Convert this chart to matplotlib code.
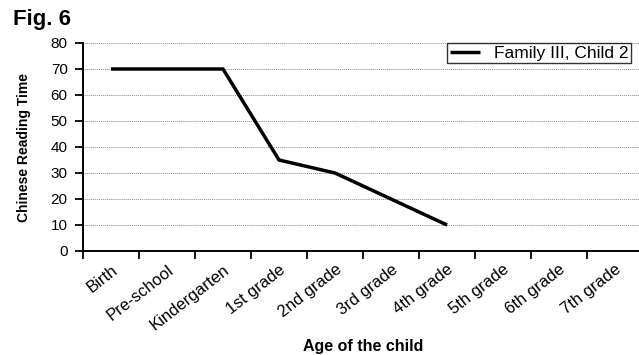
import matplotlib
matplotlib.use("Agg")
import matplotlib.pyplot as plt

categories = ["Birth", "Pre-school", "Kindergarten", "1st grade", "2nd grade",
              "3rd grade", "4th grade", "5th grade", "6th grade", "7th grade"]
values = [70, 70, 70, 35, 30, 20, 10]
series_name = "Family III, Child 2"
yticks = [0, 10, 20, 30, 40, 50, 60, 70, 80]

plt.rcParams['font.family'] = ['Liberation Sans', 'DejaVu Sans']

W, H = 639, 355
fig = plt.figure(figsize=(W/100, H/100), dpi=100)
ax = fig.add_axes([83/W, (H-251)/H, 560/W, (251-43)/H])

xs = [i + 0.5 for i in range(len(values))]
ax.plot(xs, values, color='black', lw=2.5, solid_capstyle='butt', label=series_name)

ax.set_xlim(0, len(categories))
ax.set_ylim(0, 80)
ax.set_yticks(yticks)
ax.set_xticks(range(len(categories) + 1))
ax.set_xticklabels([])
ax.set_xticks([i + 0.5 for i in range(len(categories))], minor=True)
ax.set_xticklabels(categories, minor=True, rotation=38, ha='right', va='top',
                   rotation_mode='anchor', fontsize=12)
ax.tick_params(axis='x', which='minor', length=0, pad=8)
ax.tick_params(axis='x', which='major', length=6, width=1.3, direction='out')
ax.tick_params(axis='y', length=6, width=1.3, direction='out', labelsize=11, pad=5)

for y in yticks[1:]:
    ax.axhline(y, color='#888888', lw=0.7, ls=(0, (1, 1)), zorder=0)

for s in ['top', 'right']:
    ax.spines[s].set_visible(False)
ax.spines['left'].set_linewidth(1.4)
ax.spines['bottom'].set_linewidth(1.4)

ax.set_ylabel("Chinese Reading Time", fontsize=10, fontweight='bold', va='center')
ax.yaxis.set_label_coords(-(83-24)/560, (251-147)/(251-43))
ax.set_xlabel("Age of the child", fontsize=11.5, fontweight='bold', va='center')
ax.xaxis.set_label_coords(280/560, -(347-251)/(251-43))

leg = fig.legend(loc='upper left', bbox_to_anchor=(447/W, 1 - 43/H), frameon=True, fancybox=False,
                 edgecolor='black', fontsize=12.5, handlelength=1.75, borderpad=0.15,
                 borderaxespad=0, handletextpad=0.8)
leg.get_frame().set_linewidth(1.0)

fig.text(13/W, 1 - 19/H, "Fig. 6", fontsize=16, fontweight='bold', va='center', ha='left')

fig.savefig("out.png", dpi=100)
